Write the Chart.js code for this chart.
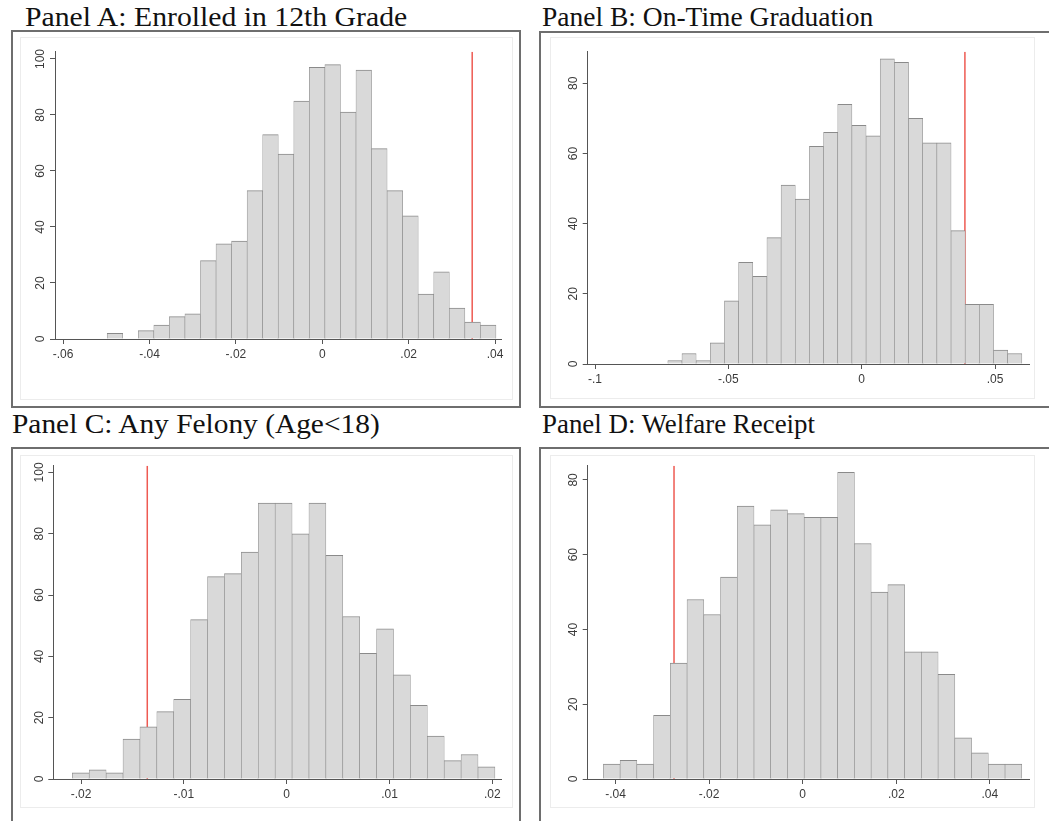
<!DOCTYPE html>
<html>
<head>
<meta charset="utf-8">
<script src="https://cdn.jsdelivr.net/npm/chart.js@4.4.0/dist/chart.umd.min.js"></script>
<style>
  body { margin: 0; background: #fff; width: 1049px; height: 821px; overflow: hidden; position: relative; }
  .box { position: absolute; border: 2px solid #6e6e6e; box-sizing: border-box; }
  .inner { position: absolute; border: 1px solid #ececec; box-sizing: border-box; }
  .title { position: absolute; font-family: "Liberation Serif", "Times New Roman", serif; font-size: 27px;
           line-height: 27px; white-space: nowrap; color: #111; transform-origin: 0 0; }
  canvas { position: absolute; }
</style>
</head>
<body>
<!-- panel frames -->
<div class="box" style="left:11px;top:30px;width:510px;height:378px"></div>
<div class="box" style="left:539px;top:31px;width:520px;height:377px"></div>
<div class="box" style="left:11px;top:447px;width:510px;height:400px"></div>
<div class="box" style="left:539px;top:447px;width:520px;height:400px"></div>
<div class="inner" style="left:20px;top:37px;width:493px;height:363px"></div>
<div class="inner" style="left:550px;top:37px;width:485px;height:362px"></div>
<div class="inner" style="left:20px;top:455px;width:493px;height:353px"></div>
<div class="inner" style="left:550px;top:455px;width:485px;height:353px"></div>

<!-- panel titles -->
<div class="title" id="tA" data-w="382" style="left:25px;top:4px">Panel A: Enrolled in 12th Grade</div>
<div class="title" id="tB" data-w="331" style="left:542px;top:4px">Panel B: On-Time Graduation</div>
<div class="title" id="tC" data-w="368" style="left:12px;top:411px">Panel C: Any Felony (Age&lt;18)</div>
<div class="title" id="tD" data-w="273" style="left:542px;top:411px">Panel D: Welfare Receipt</div>

<canvas id="chartA" width="530" height="415" style="left:0;top:0"></canvas>
<canvas id="chartB" width="519" height="415" style="left:530px;top:0"></canvas>
<canvas id="chartC" width="530" height="406" style="left:0;top:415px"></canvas>
<canvas id="chartD" width="519" height="406" style="left:530px;top:415px"></canvas>

<script>
// Panel A: Enrolled in 12th Grade
const countsA = [2, 0, 3, 5, 8, 9, 28, 34, 35, 53, 73, 66, 85, 97, 98, 81, 96, 68, 53, 44, 16, 24, 11, 6, 5];
const binStartA = -0.0498, binWidthA = 0.0036;
const lineA = 0.0347;
const xTicksA = [-0.06, -0.04, -0.02, 0, 0.02, 0.04];
const yTicksA = [0, 20, 40, 60, 80, 100];

// Panel B: On-Time Graduation
const countsB = [1, 3, 1, 6, 18, 29, 25, 36, 51, 47, 62, 66, 74, 68, 65, 87, 86, 70, 63, 63, 38, 17, 17, 4, 3];
const binStartB = -0.0727, binWidthB = 0.00531;
const lineB = 0.0387;
const xTicksB = [-0.1, -0.05, 0, 0.05];
const yTicksB = [0, 20, 40, 60, 80];

// Panel C: Any Felony (Age<18)
const countsC = [2, 3, 2, 13, 17, 22, 26, 52, 66, 67, 74, 90, 90, 80, 90, 73, 53, 41, 49, 34, 24, 14, 6, 8, 4];
const binStartC = -0.02085, binWidthC = 0.001644;
const lineC = -0.01356;
const xTicksC = [-0.02, -0.01, 0, 0.01, 0.02];
const yTicksC = [0, 20, 40, 60, 80, 100];

// Panel D: Welfare Receipt
const countsD = [4, 5, 4, 17, 31, 48, 44, 54, 73, 68, 72, 71, 70, 70, 82, 63, 50, 52, 34, 34, 28, 11, 7, 4, 4];
const binStartD = -0.0426, binWidthD = 0.003577;
const lineD = -0.0275;
const xTicksD = [-0.04, -0.02, 0, 0.02, 0.04];
const yTicksD = [0, 20, 40, 60, 80];

const axisColor = '#555';
const labelColor = '#3a3a3a';
const tickFont = { family: '"Liberation Sans", Arial, sans-serif', size: 12 };

// stata style numbers: .02, -.06, 0
function fmt(v) {
    if (v === 0) return '0';
    return String(+v.toFixed(3)).replace('0.', '.');
}

// vertical y tick labels
const yLabelPlugin = {
    id: 'yLabels',
    afterDraw(chart) {
        const s = chart.scales.y;
        const ctx = chart.ctx;
        ctx.save();
        ctx.fillStyle = labelColor;
        ctx.font = tickFont.size + 'px ' + tickFont.family;
        ctx.textAlign = 'center';
        ctx.textBaseline = 'middle';
        s.ticks.forEach(t => {
            ctx.save();
            ctx.translate(s.right - 14, s.getPixelForValue(t.value));
            ctx.rotate(-Math.PI / 2);
            ctx.fillText(fmt(t.value), 0, 0);
            ctx.restore();
        });
        ctx.restore();
    }
};

function drawPanel(id, counts, binStart, binWidth, lineX, xMin, xMax, yMax, xTicks, yTicks, pad) {
    const bars = counts.map((c, i) => ({ x: binStart + (i + 0.5) * binWidth, y: c }));
    return new Chart(document.getElementById(id), {
        type: 'bar',
        data: {
            datasets: [
                {
                    type: 'bar',
                    data: bars,
                    backgroundColor: '#d9d9d9',
                    borderColor: '#8a8a8a',
                    borderWidth: { top: 1, left: 0.6, right: 0.6, bottom: 0 },
                    barPercentage: 1,
                    categoryPercentage: 1,
                    order: 0
                },
                {
                    type: 'line',
                    data: [{ x: lineX, y: 0 }, { x: lineX, y: yMax }],
                    borderColor: '#ee5a52',
                    borderWidth: 1.5,
                    pointRadius: 0,
                    order: 1
                }
            ]
        },
        options: {
            responsive: false,
            animation: false,
            layout: { padding: pad },
            plugins: { legend: { display: false }, tooltip: { enabled: false } },
            scales: {
                x: {
                    type: 'linear',
                    min: xMin,
                    max: xMax,
                    offset: false,
                    grid: { drawOnChartArea: false, drawTicks: true, tickLength: 5, color: axisColor, offset: false },
                    border: { display: true, color: axisColor, width: 1 },
                    afterBuildTicks: s => { s.ticks = xTicks.map(v => ({ value: v })); },
                    afterFit: s => { s.height = 30; },
                    ticks: { callback: v => fmt(v), maxRotation: 0, autoSkip: false, padding: 3, color: labelColor, font: tickFont }
                },
                y: {
                    type: 'linear',
                    min: 0,
                    max: yMax,
                    grid: { drawOnChartArea: false, drawTicks: true, tickLength: 5, color: axisColor },
                    border: { display: true, color: axisColor, width: 1 },
                    afterBuildTicks: s => { s.ticks = yTicks.map(v => ({ value: v })); },
                    afterFit: s => { s.width = 30; },
                    ticks: { display: false }
                }
            }
        },
        plugins: [yLabelPlugin]
    });
}

drawPanel('chartA', countsA, binStartA, binWidthA, lineA, -0.06188, 0.04153, 102.6, xTicksA, yTicksA,
    { left: 25, right: 28.3, top: 51.7, bottom: 46 });
drawPanel('chartB', countsB, binStartB, binWidthB, lineB, -0.10274, 0.06273, 89.0, xTicksB, yTicksB,
    { left: 27.7, right: 20, top: 51.7, bottom: 21 });
drawPanel('chartC', countsC, binStartC, binWidthC, lineC, -0.02270, 0.02091, 102.2, xTicksC, yTicksC,
    { left: 23.3, right: 28.3, top: 50.7, bottom: 12 });
drawPanel('chartD', countsD, binStartD, binWidthD, lineD, -0.04595, 0.04837, 83.8, xTicksD, yTicksD,
    { left: 27.7, right: 20, top: 50.7, bottom: 12 });

// stretch titles to the reference width
document.querySelectorAll('.title').forEach(el => {
    const k = +el.dataset.w / el.offsetWidth;
    el.style.transform = 'scaleX(' + k + ')';
});
</script>
</body>
</html>
